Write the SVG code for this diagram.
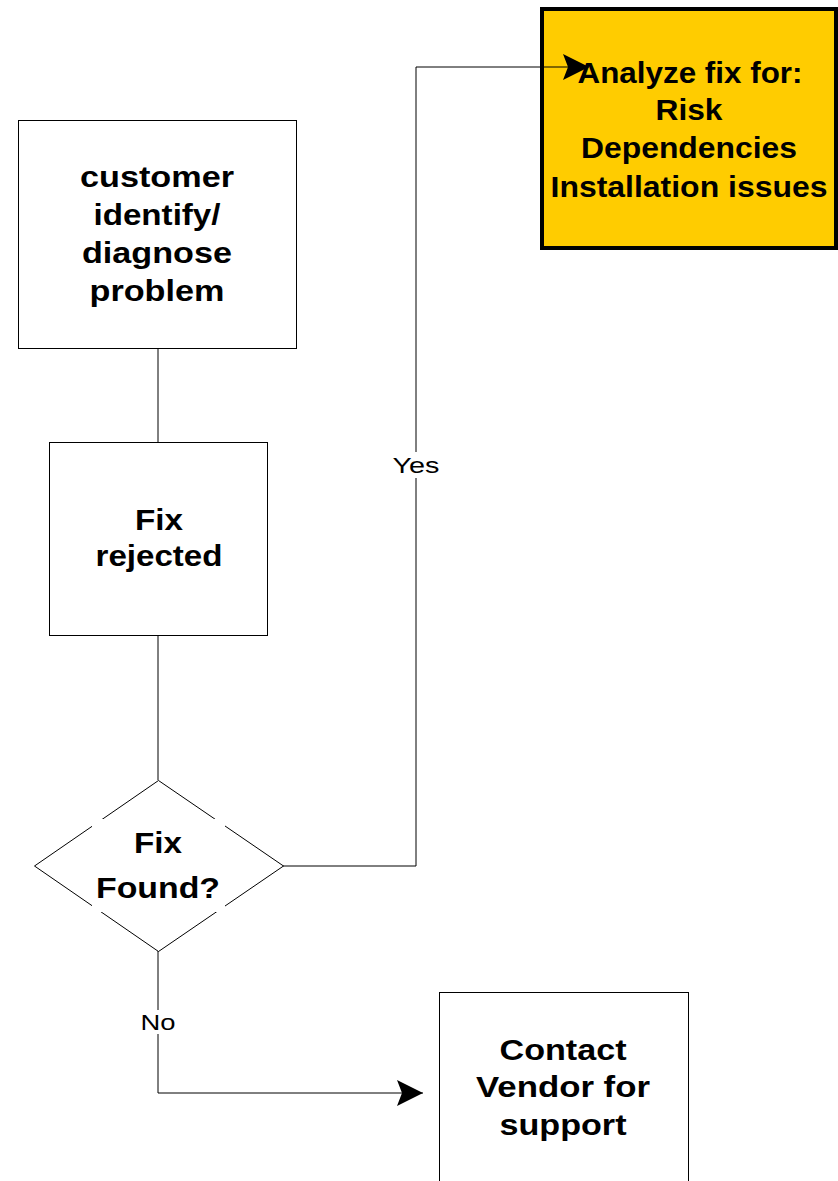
<svg xmlns="http://www.w3.org/2000/svg" width="838" height="1181" viewBox="0 0 838 1181">
<defs>
<style>
.box{fill:#fff;stroke:#000;stroke-width:1}
.t{font-family:"Liberation Sans",Arial,sans-serif;font-weight:bold;font-size:29px;text-anchor:middle;fill:#000}
.lbl{font-family:"Liberation Sans",Arial,sans-serif;font-size:22px;text-anchor:middle;fill:#000}
.c{fill:none;stroke:#000;stroke-width:1}
</style>
<marker id="arr" viewBox="0 0 26 26" refX="26" refY="13" markerWidth="26" markerHeight="26" markerUnits="userSpaceOnUse" orient="auto">
<path d="M0,0 L26,13 L0,26 L5,13 z" fill="#000"/>
</marker>
</defs>
<rect width="838" height="1181" fill="#fff"/>
<g id="customer">
<rect class="box" x="18.5" y="120.5" width="278" height="228"/>
<text class="t" x="157" y="187" textLength="154" lengthAdjust="spacingAndGlyphs">customer</text>
<text class="t" x="157" y="225" textLength="127" lengthAdjust="spacingAndGlyphs">identify/</text>
<text class="t" x="157" y="263" textLength="150" lengthAdjust="spacingAndGlyphs">diagnose</text>
<text class="t" x="157" y="301" textLength="135" lengthAdjust="spacingAndGlyphs">problem</text>
</g>
<g id="rejected">
<rect class="box" x="49.5" y="442.5" width="218" height="193"/>
<text class="t" x="159" y="530" textLength="48" lengthAdjust="spacingAndGlyphs">Fix</text>
<text class="t" x="159" y="566" textLength="127" lengthAdjust="spacingAndGlyphs">rejected</text>
</g>
<g id="decision">
<polygon class="box" points="158.5,780.5 283.5,866 158.5,951.5 34.5,866"/>
<rect x="92" y="819" width="133" height="93" fill="#fff"/>
<text class="t" x="158" y="853" textLength="48" lengthAdjust="spacingAndGlyphs">Fix</text>
<text class="t" x="158" y="898" textLength="124" lengthAdjust="spacingAndGlyphs">Found?</text>
</g>
<g id="analyze">
<rect x="542" y="9" width="294" height="239" fill="#FFCC00" stroke="#000" stroke-width="4"/>
<text class="t" x="690" y="83" textLength="225" lengthAdjust="spacingAndGlyphs">Analyze fix for:</text>
<text class="t" x="689" y="120" textLength="67" lengthAdjust="spacingAndGlyphs">Risk</text>
<text class="t" x="689" y="158" textLength="216" lengthAdjust="spacingAndGlyphs">Dependencies</text>
<text class="t" x="689" y="197" textLength="277" lengthAdjust="spacingAndGlyphs">Installation issues</text>
</g>
<g id="vendor">
<rect class="box" x="439.5" y="992.5" width="249" height="200"/>
<text class="t" x="563" y="1060" textLength="127" lengthAdjust="spacingAndGlyphs">Contact</text>
<text class="t" x="563" y="1097" textLength="174" lengthAdjust="spacingAndGlyphs">Vendor for</text>
<text class="t" x="563" y="1135" textLength="127" lengthAdjust="spacingAndGlyphs">support</text>
</g>
<g id="connectors">
<line class="c" x1="158" y1="348" x2="158" y2="442"/>
<line class="c" x1="158" y1="635" x2="158" y2="780"/>
<polyline class="c" points="283,866 416,866 416,67 589,67" marker-end="url(#arr)"/>
<polyline class="c" points="158,951 158,1093 423,1093" marker-end="url(#arr)"/>
<rect x="388" y="452" width="56" height="26" fill="#fff"/>
<text class="lbl" x="416" y="473" textLength="47" lengthAdjust="spacingAndGlyphs">Yes</text>
<rect x="138" y="1010" width="42" height="24" fill="#fff"/>
<text class="lbl" x="158" y="1030" textLength="35" lengthAdjust="spacingAndGlyphs">No</text>
</g>
</svg>
